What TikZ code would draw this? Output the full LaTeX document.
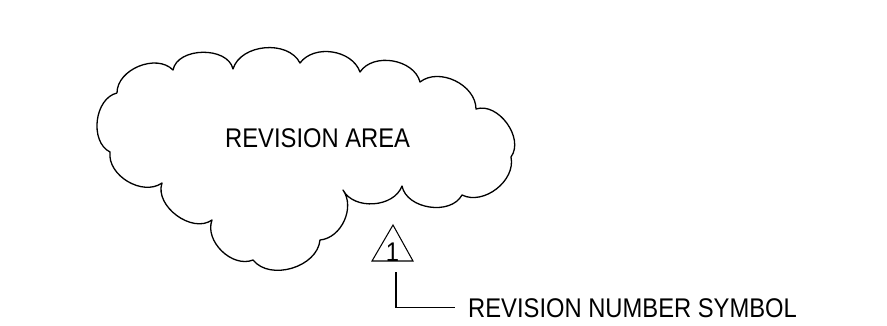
\documentclass[tikz,border=0pt]{standalone}
\usepackage{fontspec}
\newfontfamily\labfont{Liberation Sans}[FakeStretch=0.88]
\begin{document}
\begin{tikzpicture}[x=1pt,y=-1pt,
  cloudline/.style={draw=black,line width=1.3pt,line join=round},
  thinline/.style={draw=black,line width=1.05pt},
  lab/.style={inner sep=0pt,font=\labfont\fontsize{27}{30}\selectfont},
  bl/.style={bend left=#1}]
\path[use as bounding box] (0,0) rectangle (887,325);
% cloud
\draw[cloudline]
  (117,93) to[bl=68] (173,70) to[bl=78] (233,69) to[bl=68] (300,63)
  to[bl=62] (360,72) to[bl=66] (420,82) to[bl=64] (476,109)
  to[bl=72] (511,157) to[bl=64] (462,195) to[bl=70] (402,186)
  to[bl=66] (343,190) to[bl=60] (320,240) to[bl=68] (253,260)
  to[bl=66] (212,220) to[bl=72] (162,183) to[bl=66] (110,152)
  to[bl=70] (117,93);
\node[lab,anchor=base west] (area) at (225,147) {REVISION AREA};
% revision triangle
\coordinate (apex) at (393,225);
\coordinate (bl1) at (372,261);
\coordinate (br1) at (413,261);
\draw[thinline,line join=miter] (apex) -- (bl1) -- (br1) -- cycle;
\node[lab,anchor=base] (num) at (392.5,261) {1};
% leader
\coordinate (lead) at (396,272);
\node[lab,anchor=base west] (lbl) at (468,317) {REVISION NUMBER SYMBOL};
\draw[thinline,shorten >=13pt] (lead) |- (lbl.west);
\end{tikzpicture}
\end{document}
